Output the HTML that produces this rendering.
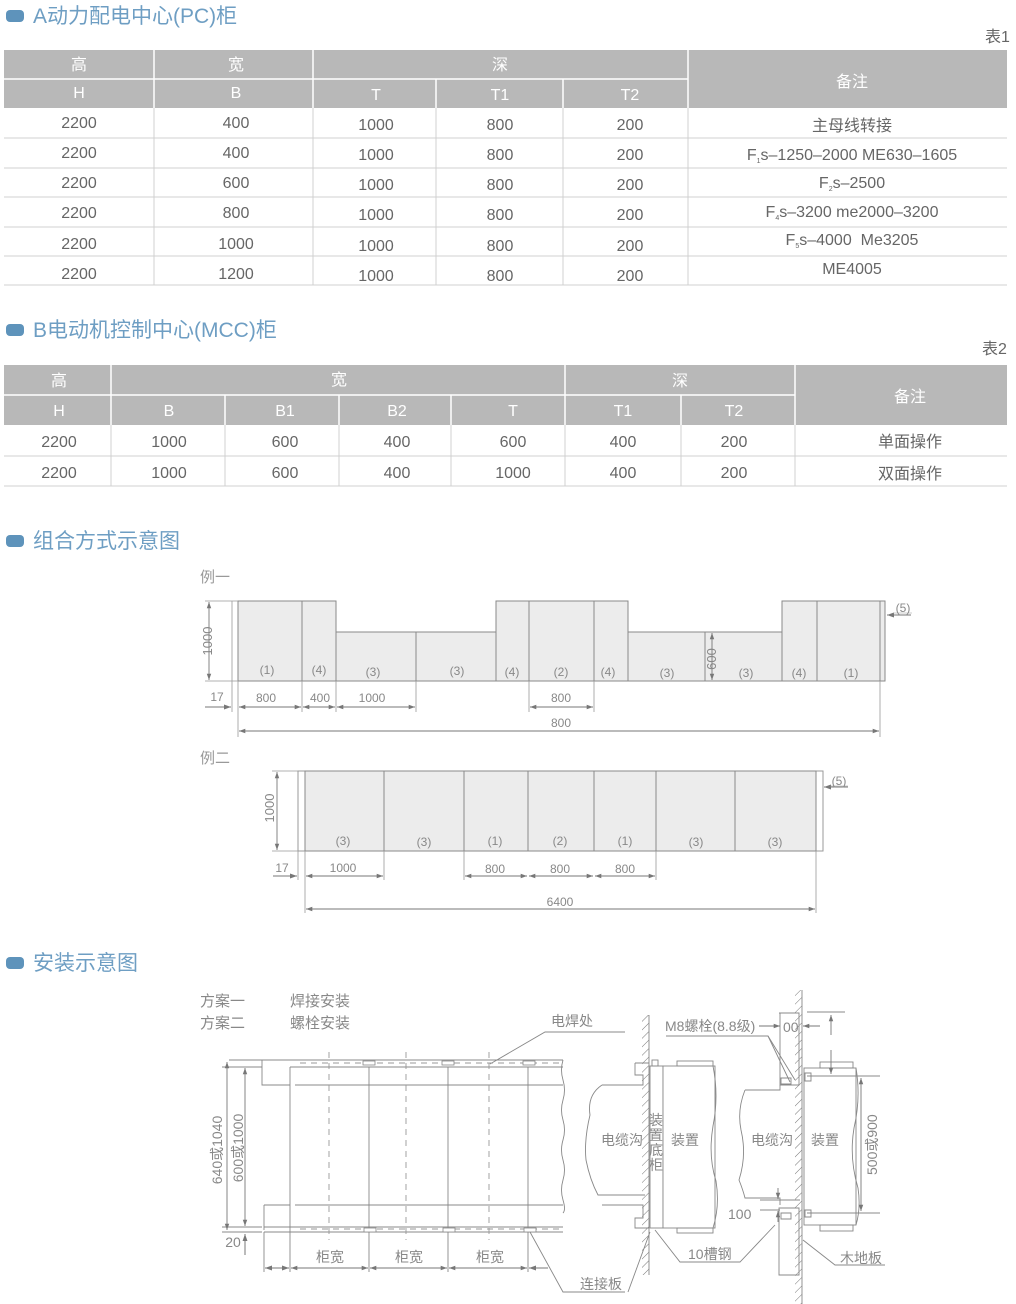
<!DOCTYPE html>
<html><head><meta charset="utf-8"><style>
html,body{margin:0;padding:0;background:#fff;}
svg{display:block;}
text{font-family:"Liberation Sans","Noto Sans CJK SC",sans-serif;}
</style></head><body>
<svg width="1016" height="1304" viewBox="0 0 1016 1304" xmlns="http://www.w3.org/2000/svg">
<defs>
<marker id="a" viewBox="0 0 10 10" refX="10" refY="5" markerWidth="7" markerHeight="7" orient="auto-start-reverse"><path d="M0,1.5 L10,5 L0,8.5 z" fill="#777"/></marker>
<pattern id="h" width="6" height="6" patternUnits="userSpaceOnUse" patternTransform="rotate(45)"><line x1="0" y1="0" x2="0" y2="6" stroke="#777" stroke-width="1"/></pattern>
</defs>

<!-- Headings -->
<g fill="#5e93bb">
<rect x="6" y="10" width="18" height="12" rx="4"/>
<rect x="6" y="324" width="18" height="12" rx="4"/>
<rect x="6" y="535" width="18" height="12" rx="4"/>
<rect x="6" y="957" width="18" height="12" rx="4"/>
</g>
<g fill="#6e9ec3" font-size="21">
<text x="33" y="23">A动力配电中心(PC)柜</text>
<text x="33" y="337">B电动机控制中心(MCC)柜</text>
<text x="33" y="548">组合方式示意图</text>
<text x="33" y="970">安装示意图</text>
</g>
<g fill="#666" font-size="16">
<text x="985" y="42">表1</text>
<text x="982" y="354">表2</text>
</g>

<!-- Table 1 -->
<rect x="4" y="50" width="1003" height="58" fill="#b8b8b8"/>
<g stroke="#fff" stroke-width="1.5">
<line x1="4" y1="79" x2="688" y2="79"/>
<line x1="154" y1="50" x2="154" y2="108"/><line x1="313" y1="50" x2="313" y2="108"/>
<line x1="436" y1="79" x2="436" y2="108"/><line x1="563" y1="79" x2="563" y2="108"/>
<line x1="688" y1="50" x2="688" y2="108"/>
</g>
<g stroke="#d0d0d0" stroke-width="1">
<line x1="4" y1="138" x2="1007" y2="138"/><line x1="4" y1="168" x2="1007" y2="168"/>
<line x1="4" y1="197" x2="1007" y2="197"/><line x1="4" y1="227" x2="1007" y2="227"/>
<line x1="4" y1="256" x2="1007" y2="256"/><line x1="4" y1="285" x2="1007" y2="285"/>
<line x1="154" y1="108" x2="154" y2="285"/><line x1="313" y1="108" x2="313" y2="285"/>
<line x1="436" y1="108" x2="436" y2="285"/><line x1="563" y1="108" x2="563" y2="285"/>
<line x1="688" y1="108" x2="688" y2="285"/>
</g>
<g fill="#fff" font-size="16" text-anchor="middle">
<text x="79" y="70">高</text><text x="236" y="70">宽</text><text x="500" y="70">深</text>
<text x="852" y="87">备注</text>
<text x="79" y="98">H</text><text x="236" y="98">B</text><text x="376" y="100">T</text><text x="500" y="100">T1</text><text x="630" y="100">T2</text>
</g>
<g fill="#666" font-size="16" text-anchor="middle">
<text x="79" y="128">2200</text><text x="236" y="128">400</text><text x="376" y="130">1000</text><text x="500" y="130">800</text><text x="630" y="130">200</text><text x="852" y="131">主母线转接</text>
<text x="79" y="158">2200</text><text x="236" y="158">400</text><text x="376" y="160">1000</text><text x="500" y="160">800</text><text x="630" y="160">200</text><text x="852" y="160">F<tspan font-size="7" dy="3">1</tspan><tspan dy="-3">s–1250–2000 ME630–1605</tspan></text>
<text x="79" y="188">2200</text><text x="236" y="188">600</text><text x="376" y="190">1000</text><text x="500" y="190">800</text><text x="630" y="190">200</text><text x="852" y="188">F<tspan font-size="7" dy="3">2</tspan><tspan dy="-3">s–2500</tspan></text>
<text x="79" y="218">2200</text><text x="236" y="218">800</text><text x="376" y="220">1000</text><text x="500" y="220">800</text><text x="630" y="220">200</text><text x="852" y="217">F<tspan font-size="7" dy="3">4</tspan><tspan dy="-3">s–3200 me2000–3200</tspan></text>
<text x="79" y="249">2200</text><text x="236" y="249">1000</text><text x="376" y="251">1000</text><text x="500" y="251">800</text><text x="630" y="251">200</text><text x="852" y="245">F<tspan font-size="7" dy="3">5</tspan><tspan dy="-3">s–4000&#160;&#160;Me3205</tspan></text>
<text x="79" y="279">2200</text><text x="236" y="279">1200</text><text x="376" y="281">1000</text><text x="500" y="281">800</text><text x="630" y="281">200</text><text x="852" y="274">ME4005</text>
</g>

<!-- Table 2 -->
<rect x="4" y="365" width="1003" height="60" fill="#b8b8b8"/>
<g stroke="#fff" stroke-width="1.5">
<line x1="4" y1="395" x2="795" y2="395"/>
<line x1="111" y1="365" x2="111" y2="425"/><line x1="565" y1="365" x2="565" y2="425"/><line x1="795" y1="365" x2="795" y2="425"/>
<line x1="225" y1="395" x2="225" y2="425"/><line x1="339" y1="395" x2="339" y2="425"/><line x1="451" y1="395" x2="451" y2="425"/><line x1="681" y1="395" x2="681" y2="425"/>
</g>
<g stroke="#d0d0d0">
<line x1="4" y1="456" x2="1007" y2="456"/><line x1="4" y1="486" x2="1007" y2="486"/>
<line x1="111" y1="425" x2="111" y2="486"/><line x1="225" y1="425" x2="225" y2="486"/><line x1="339" y1="425" x2="339" y2="486"/>
<line x1="451" y1="425" x2="451" y2="486"/><line x1="565" y1="425" x2="565" y2="486"/><line x1="681" y1="425" x2="681" y2="486"/><line x1="795" y1="425" x2="795" y2="486"/>
</g>
<g fill="#fff" font-size="16" text-anchor="middle">
<text x="59" y="386">高</text><text x="339" y="385">宽</text><text x="680" y="386">深</text><text x="910" y="402">备注</text>
<text x="59" y="416">H</text><text x="169" y="416">B</text><text x="285" y="416">B1</text><text x="397" y="416">B2</text><text x="513" y="416">T</text><text x="623" y="416">T1</text><text x="734" y="416">T2</text>
</g>
<g fill="#666" font-size="16" text-anchor="middle">
<text x="59" y="447">2200</text><text x="169" y="447">1000</text><text x="285" y="447">600</text><text x="397" y="447">400</text><text x="513" y="447">600</text><text x="623" y="447">400</text><text x="734" y="447">200</text><text x="910" y="447">单面操作</text>
<text x="59" y="478">2200</text><text x="169" y="478">1000</text><text x="285" y="478">600</text><text x="397" y="478">400</text><text x="513" y="478">1000</text><text x="623" y="478">400</text><text x="734" y="478">200</text><text x="910" y="479">双面操作</text>
</g>

<!-- Example 1 -->
<text x="200" y="582" font-size="15" fill="#999">例一</text>
<g fill="#ececec" stroke="#8a8a8a" stroke-width="1">
<rect x="238" y="601" width="64" height="80"/><rect x="302" y="601" width="34" height="80"/>
<rect x="336" y="632" width="80" height="49"/><rect x="416" y="632" width="80" height="49"/>
<rect x="496" y="601" width="33" height="80"/><rect x="529" y="601" width="65" height="80"/><rect x="594" y="601" width="34" height="80"/>
<rect x="628" y="632" width="77" height="49"/><rect x="705" y="632" width="77" height="49"/>
<rect x="782" y="601" width="35" height="80"/><rect x="817" y="601" width="63" height="80"/>
<rect x="880" y="601" width="5" height="80"/>
</g>
<g stroke="#999" fill="none" stroke-width="0.8">
<line x1="232" y1="601" x2="232" y2="712"/><line x1="205" y1="601" x2="238" y2="601"/><line x1="205" y1="681" x2="238" y2="681"/>
<line x1="238" y1="681" x2="238" y2="737"/><line x1="880" y1="681" x2="880" y2="737"/>
<line x1="302" y1="681" x2="302" y2="712"/><line x1="336" y1="681" x2="336" y2="712"/><line x1="416" y1="681" x2="416" y2="712"/>
<line x1="529" y1="681" x2="529" y2="712"/><line x1="594" y1="681" x2="594" y2="712"/>
</g>
<g stroke="#777" stroke-width="0.9" marker-start="url(#a)" marker-end="url(#a)">
<line x1="209" y1="602" x2="209" y2="680"/>
<line x1="239" y1="707" x2="301" y2="707"/><line x1="303" y1="707" x2="335" y2="707"/><line x1="337" y1="707" x2="415" y2="707"/>
<line x1="530" y1="707" x2="593" y2="707"/><line x1="239" y1="731" x2="879" y2="731"/>
<line x1="712" y1="633" x2="712" y2="680"/>
</g>
<line x1="205" y1="707" x2="231" y2="707" stroke="#777" marker-end="url(#a)"/>
<line x1="911" y1="615" x2="887" y2="615" stroke="#777" marker-end="url(#a)"/>
<line x1="893" y1="613" x2="912" y2="613" stroke="#999" stroke-width="0.6"/>
<g fill="#888" font-size="12" text-anchor="middle">
<text x="267" y="674">(1)</text><text x="319" y="674">(4)</text><text x="373" y="676">(3)</text><text x="457" y="675">(3)</text>
<text x="512" y="676">(4)</text><text x="561" y="676">(2)</text><text x="608" y="676">(4)</text><text x="667" y="677">(3)</text><text x="746" y="677">(3)</text><text x="799" y="677">(4)</text><text x="851" y="677">(1)</text>
<text x="266" y="702">800</text><text x="320" y="702">400</text><text x="372" y="702">1000</text><text x="561" y="702">800</text><text x="561" y="727">800</text>
<text x="217" y="701">17</text><text x="903" y="612">(5)</text>
<text transform="translate(212,641) rotate(-90)" font-size="13">1000</text>
<text transform="translate(716,659) rotate(-90)" font-size="13">600</text>
</g>

<!-- Example 2 -->
<text x="200" y="763" font-size="15" fill="#999">例二</text>
<rect x="298" y="771" width="525" height="80" fill="#fff" stroke="#999"/>
<rect x="305" y="771" width="511" height="80" fill="#ececec" stroke="#8a8a8a"/>
<g stroke="#8a8a8a"><line x1="384" y1="771" x2="384" y2="851"/><line x1="464" y1="771" x2="464" y2="851"/><line x1="528" y1="771" x2="528" y2="851"/><line x1="594" y1="771" x2="594" y2="851"/><line x1="656" y1="771" x2="656" y2="851"/><line x1="735" y1="771" x2="735" y2="851"/></g>
<g stroke="#999" stroke-width="0.8">
<line x1="272" y1="771" x2="298" y2="771"/><line x1="272" y1="851" x2="298" y2="851"/>
<line x1="298" y1="851" x2="298" y2="880"/><line x1="305" y1="851" x2="305" y2="913"/><line x1="816" y1="851" x2="816" y2="913"/>
<line x1="384" y1="851" x2="384" y2="880"/><line x1="464" y1="851" x2="464" y2="880"/><line x1="656" y1="851" x2="656" y2="880"/>
</g>
<g stroke="#777" stroke-width="0.9" marker-start="url(#a)" marker-end="url(#a)">
<line x1="277" y1="772" x2="277" y2="850"/>
<line x1="306" y1="876" x2="383" y2="876"/><line x1="465" y1="876" x2="527" y2="876"/><line x1="529" y1="876" x2="593" y2="876"/><line x1="595" y1="876" x2="655" y2="876"/>
<line x1="306" y1="909" x2="815" y2="909"/>
</g>
<line x1="273" y1="876" x2="297" y2="876" stroke="#777" marker-end="url(#a)"/>
<line x1="848" y1="787" x2="824" y2="787" stroke="#777" marker-end="url(#a)"/>
<line x1="830" y1="786" x2="848" y2="786" stroke="#999" stroke-width="0.6"/>
<g fill="#888" font-size="12" text-anchor="middle">
<text x="343" y="845">(3)</text><text x="424" y="846">(3)</text><text x="495" y="845">(1)</text><text x="560" y="845">(2)</text><text x="625" y="845">(1)</text><text x="696" y="846">(3)</text><text x="775" y="846">(3)</text>
<text x="343" y="872">1000</text><text x="495" y="873">800</text><text x="560" y="873">800</text><text x="625" y="873">800</text><text x="560" y="906">6400</text>
<text x="282" y="872">17</text><text x="839" y="785">(5)</text>
<text transform="translate(274,808) rotate(-90)" font-size="13">1000</text>
</g>

<!-- Installation -->
<g fill="#888" font-size="15">
<text x="200" y="1006">方案一</text><text x="290" y="1006">焊接安装</text>
<text x="200" y="1028">方案二</text><text x="290" y="1028">螺栓安装</text>
<text x="551" y="1026" font-size="14">电焊处</text>
</g>
<g stroke="#888" fill="none" stroke-width="0.9">
<path d="M262,1060 H563"/><path d="M262,1060 V1085 H290"/><path d="M295,1085 H563"/>
<path d="M290,1067 V1235"/><path d="M290,1067 H563"/>
<path d="M264,1205 V1230"/><path d="M295,1205 H563"/><path d="M264,1205 H290"/>
<path d="M264,1227 H563"/><path d="M264,1232 H563"/>
<path d="M369,1067 V1235"/><path d="M448,1067 V1235"/><path d="M528,1067 V1235"/>
<path d="M563,1060 q-3,10 0,20 q3,10 0,20 q-3,10 0,20 q3,10 0,20 q-3,10 0,20 q3,10 0,20 q-3,10 0,20 q3,10 0,13"/>
<path d="M229,1060 H262"/><path d="M222,1067 H262"/><path d="M222,1227 H262"/><path d="M222,1232 H262"/>
<path d="M264,1232 V1272"/><path d="M290,1235 V1272"/><path d="M369,1235 V1272"/><path d="M448,1235 V1272"/><path d="M528,1235 V1272"/>
<path d="M530,1232 L563,1292 H625"/><path d="M490,1064 L545,1032 H625"/>
</g>
<g stroke="#999" stroke-dasharray="6,5" stroke-width="0.9"><line x1="329" y1="1052" x2="329" y2="1240"/><line x1="406" y1="1052" x2="406" y2="1240"/><line x1="489" y1="1052" x2="489" y2="1240"/><line x1="300" y1="1063" x2="563" y2="1063"/><line x1="300" y1="1229" x2="563" y2="1229"/></g>
<g fill="#fff" stroke="#888" stroke-width="0.8"><rect x="363" y="1061" width="12" height="4"/><rect x="442" y="1061" width="12" height="4"/><rect x="523" y="1061" width="12" height="4"/><rect x="364" y="1228" width="12" height="4"/><rect x="443" y="1228" width="12" height="4"/><rect x="524" y="1228" width="12" height="4"/></g>
<g stroke="#777" stroke-width="0.9" marker-start="url(#a)" marker-end="url(#a)">
<line x1="227" y1="1062" x2="227" y2="1230"/><line x1="245" y1="1068" x2="245" y2="1226"/>
<line x1="291" y1="1268" x2="368" y2="1268"/><line x1="370" y1="1268" x2="447" y2="1268"/><line x1="449" y1="1268" x2="527" y2="1268"/>
</g>
<line x1="245" y1="1255" x2="245" y2="1234" stroke="#777" marker-end="url(#a)"/>
<line x1="265" y1="1268" x2="289" y2="1268" stroke="#777" marker-start="url(#a)" marker-end="url(#a)"/>
<line x1="529" y1="1268" x2="548" y2="1268" stroke="#777" marker-start="url(#a)"/>
<g fill="#888" font-size="14" text-anchor="middle">
<text transform="translate(222,1150) rotate(-90)">640或1040</text>
<text transform="translate(243,1148) rotate(-90)">600或1000</text>
<text x="233" y="1247">20</text>
<text x="330" y="1262">柜宽</text><text x="409" y="1262">柜宽</text><text x="490" y="1262">柜宽</text>
<text x="601" y="1289">连接板</text>
</g>
<rect x="642" y="1015" width="7" height="260" fill="url(#h)"/>
<g stroke="#888" fill="none" stroke-width="0.9">
<line x1="649" y1="1015" x2="649" y2="1275"/>
<path d="M635,1063 H649 M635,1063 V1075 H643 V1085 H602"/>
<path d="M602,1085 q-15,10 -12,30 q-6,25 -4,45 q4,20 12,35 h47"/>
<path d="M602,1205 H643 V1218 H635 V1228 H649"/>
<rect x="650" y="1066" width="13" height="162"/>
<rect x="663" y="1066" width="52" height="162" fill="#fff"/>
<rect x="677" y="1061" width="36" height="5"/><rect x="677" y="1228" width="36" height="5"/>
<path d="M713,1066 q6,30 0,60 q-5,30 3,55 q4,25 -3,47"/>
<rect x="652" y="1060" width="6" height="6"/>
<path d="M655,1230 L680,1262 H740 L775,1225"/>
<path d="M650,1232 L628,1292"/>
</g>
<g fill="#888" font-size="14"><text x="601" y="1145">电缆沟</text><text x="671" y="1145">装置</text><text x="688" y="1259">10槽钢</text>
<text x="649" y="1125">装</text><text x="649" y="1140">置</text><text x="649" y="1155">底</text><text x="649" y="1170">柜</text></g>
<rect x="795" y="990" width="7" height="315" fill="url(#h)"/>
<g stroke="#888" fill="none" stroke-width="0.9">
<line x1="802" y1="990" x2="802" y2="1305"/>
<path d="M779,1013 H799 V1085 H780 V1013"/><path d="M780,1085 V1090 H745"/>
<path d="M745,1090 q-8,20 -4,40 q6,25 -2,50 q4,10 6,18 h35 V1205"/>
<path d="M779,1208 H799 V1275 H779 Z"/>
<rect x="804" y="1068" width="52" height="157" fill="#fff"/>
<rect x="820" y="1062" width="33" height="6"/><rect x="820" y="1225" width="33" height="6"/>
<path d="M856,1068 q5,30 -2,60 q-5,30 4,60 q3,20 -2,37"/>
<path d="M781,1078 h10 v6 h-10z M781,1213 h10 v6 h-10z M805,1073 h6 v8 h-6z M805,1210 h6 v7 h-6z"/>
<path d="M666,1036 H768 L795,1080"/><path d="M768,1036 L790,1082"/>
<path d="M803,1240 L835,1265 H885"/>
<line x1="807" y1="1012" x2="845" y2="1012"/><line x1="807" y1="1076" x2="880" y2="1076"/><line x1="807" y1="1213" x2="880" y2="1213"/>
<line x1="760" y1="1200" x2="800" y2="1200"/><line x1="760" y1="1210" x2="780" y2="1210"/>
</g>
<g stroke="#777" stroke-width="0.9">
<line x1="759" y1="1026" x2="780" y2="1026" marker-end="url(#a)"/>
<line x1="820" y1="1026" x2="803" y2="1026" marker-end="url(#a)"/>
<line x1="831" y1="1035" x2="831" y2="1015" marker-end="url(#a)"/>
<line x1="831" y1="1050" x2="831" y2="1074" marker-end="url(#a)"/>
<line x1="861" y1="1078" x2="861" y2="1211" marker-start="url(#a)" marker-end="url(#a)"/>
<line x1="778" y1="1188" x2="778" y2="1199" marker-end="url(#a)"/>
<line x1="778" y1="1222" x2="778" y2="1211" marker-end="url(#a)"/>
</g>
<g fill="#888" font-size="14">
<text x="665" y="1031">M8螺栓(8.8级)</text><text x="783" y="1032">00</text>
<text x="751" y="1145">电缆沟</text><text x="811" y="1145">装置</text>
<text x="728" y="1219">100</text><text x="840" y="1263">木地板</text>
<text transform="translate(877,1175) rotate(-90)">500或900</text>
</g>
</svg>
</body></html>
